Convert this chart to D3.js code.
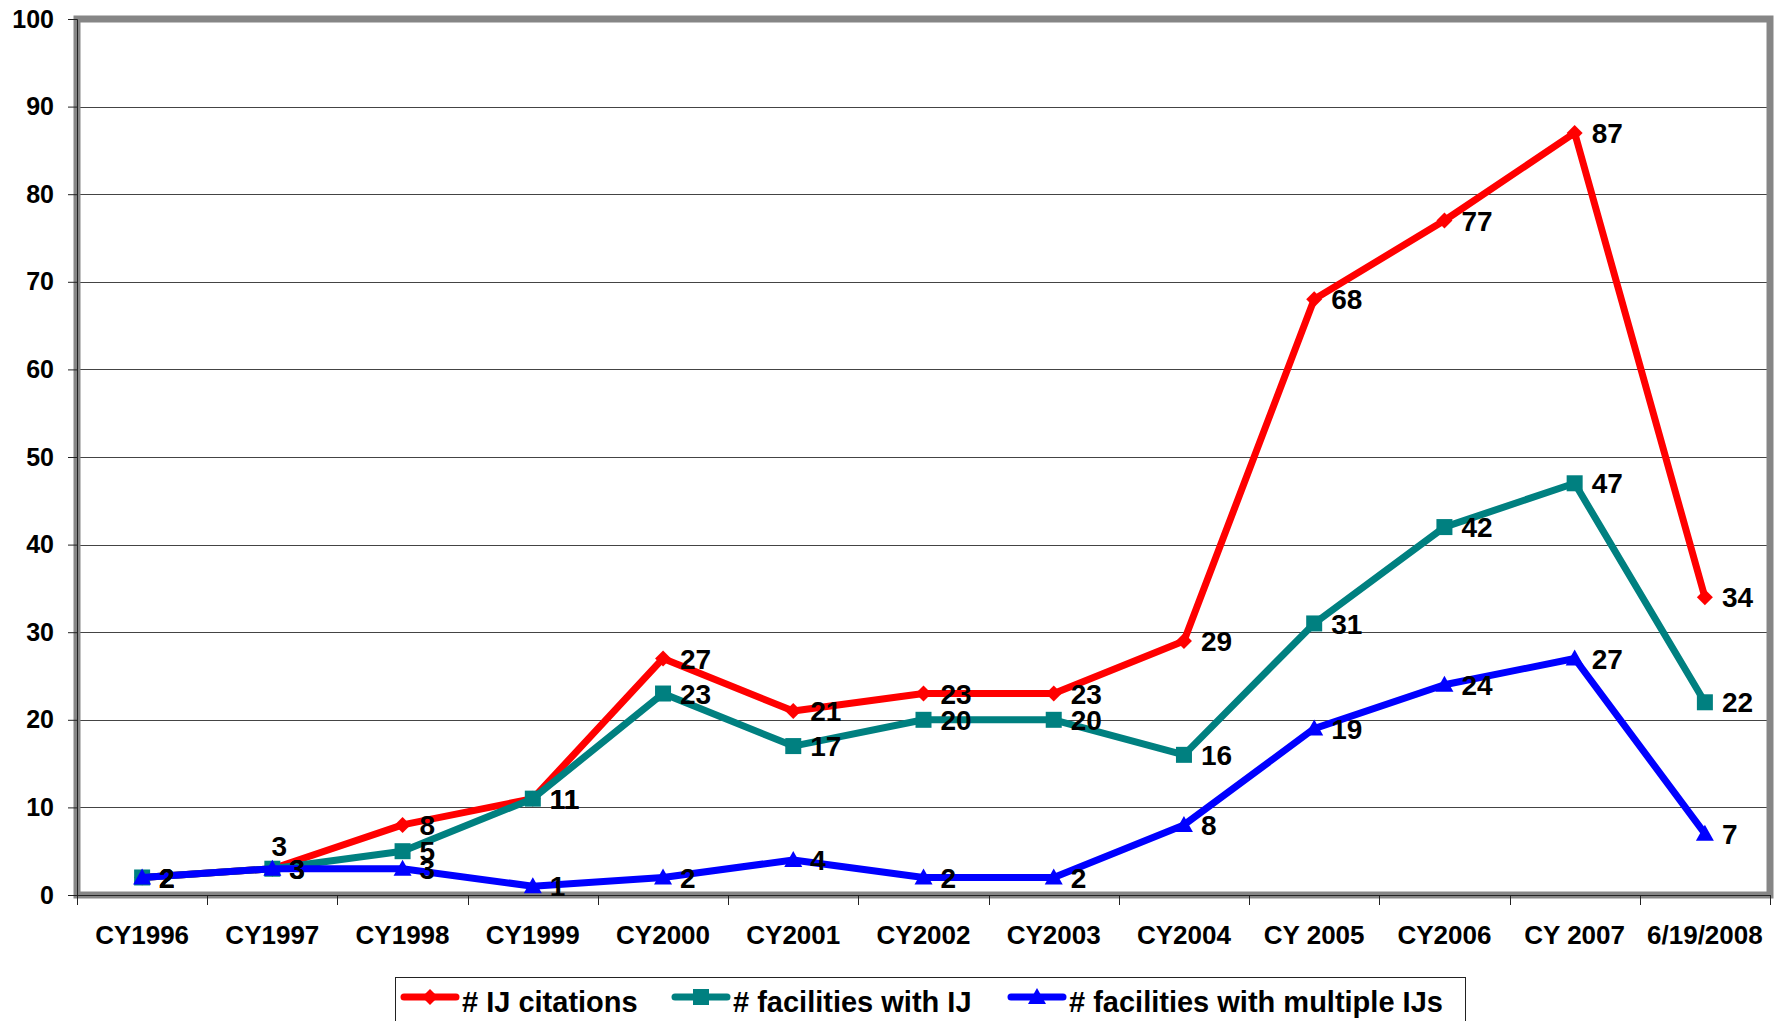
<!DOCTYPE html>
<html>
<head>
<meta charset="utf-8">
<script src="https://cdn.jsdelivr.net/npm/d3@7"></script>
<style>
  html, body { margin: 0; padding: 0; background: #fff; }
  svg { display: block; font-family: Arial, "Liberation Sans", sans-serif; font-weight: bold; }
</style>
</head>
<body>
<svg id="chart"></svg>
<script>
const categories = ["CY1996", "CY1997", "CY1998", "CY1999", "CY2000", "CY2001", "CY2002",
  "CY2003", "CY2004", "CY 2005", "CY2006", "CY 2007", "6/19/2008"];
const ijCitations = [2, 3, 8, 11, 27, 21, 23, 23, 29, 68, 77, 87, 34];
const facilitiesWithIJ = [2, 3, 5, 11, 23, 17, 20, 20, 16, 31, 42, 47, 22];
const facilitiesMultipleIJs = [2, 3, 3, 1, 2, 4, 2, 2, 8, 19, 24, 27, 7];
const yTicks = [0, 10, 20, 30, 40, 50, 60, 70, 80, 90, 100];

const series = [
  { name: "# IJ citations", values: ijCitations, color: "#ff0000", marker: "diamond" },
  { name: "# facilities with IJ", values: facilitiesWithIJ, color: "#008080", marker: "square" },
  { name: "# facilities with multiple IJs", values: facilitiesMultipleIJs, color: "#0000ff", marker: "triangle" }
];

const width = 1779, height = 1021;
const plot = { left: 77, right: 1770, top: 19, bottom: 895 };

const svg = d3.select("#chart").attr("width", width).attr("height", height);

const x = d3.scaleBand().domain(categories).range([plot.left, plot.right]);
const y = d3.scaleLinear().domain([0, 100]).range([plot.bottom, plot.top]);
const cx = (c) => x(c) + x.bandwidth() / 2;

// gridlines
svg.append("g").selectAll("line").data(yTicks.filter(t => t > 0 && t < 100)).enter().append("line")
  .attr("x1", plot.left).attr("x2", plot.right)
  .attr("y1", d => Math.round(y(d)) + 0.5).attr("y2", d => Math.round(y(d)) + 0.5)
  .attr("stroke", "#444").attr("stroke-width", 1);

// plot frame
svg.append("rect")
  .attr("x", plot.left).attr("y", plot.top)
  .attr("width", plot.right - plot.left).attr("height", plot.bottom - plot.top)
  .attr("fill", "none").attr("stroke", "#868686").attr("stroke-width", 7);

// y axis
const yAxis = svg.append("g").attr("transform", `translate(${plot.left},0)`)
  .call(d3.axisLeft(y).tickValues(yTicks).tickSize(9).tickPadding(14));
yAxis.select(".domain").attr("stroke", "#222").attr("stroke-width", 1);
yAxis.selectAll(".tick line").attr("stroke", "#222");
yAxis.selectAll("text").attr("font-size", 25).attr("font-family", "Arial, 'Liberation Sans', sans-serif")
  .attr("font-weight", "bold").attr("fill", "#000");

// x axis: ticks at category boundaries
const xAxis = svg.append("g").attr("transform", `translate(0,${plot.bottom})`);
xAxis.append("line").attr("x1", plot.left).attr("x2", plot.right).attr("y1", 0.5).attr("y2", 0.5)
  .attr("stroke", "#222");
xAxis.selectAll("line.tk").data(categories.concat(["end"])).enter().append("line").attr("class", "tk")
  .attr("x1", (d, i) => Math.round(i < categories.length ? x(d) : plot.right) + 0.5)
  .attr("x2", (d, i) => Math.round(i < categories.length ? x(d) : plot.right) + 0.5)
  .attr("y1", 0).attr("y2", 10).attr("stroke", "#222");
xAxis.selectAll("text").data(categories).enter().append("text")
  .attr("x", d => cx(d)).attr("y", 49)
  .attr("text-anchor", "middle").attr("font-size", 26).attr("fill", "#000")
  .text(d => d);

// marker shapes
function drawMarker(g, type, color, px, py) {
  if (type === "diamond") {
    g.append("path").attr("d", `M${px},${py - 8}L${px + 8},${py}L${px},${py + 8}L${px - 8},${py}Z`).attr("fill", color);
  } else if (type === "square") {
    g.append("rect").attr("x", px - 8).attr("y", py - 8).attr("width", 16).attr("height", 16).attr("fill", color);
  } else {
    g.append("path").attr("d", `M${px},${py - 9}L${px + 9},${py + 7}L${px - 9},${py + 7}Z`).attr("fill", color);
  }
}

const line = d3.line().x((d, i) => cx(categories[i])).y(d => y(d));

series.forEach(s => {
  const g = svg.append("g");
  g.append("path").datum(s.values).attr("d", line)
    .attr("fill", "none").attr("stroke", s.color).attr("stroke-width", 7).attr("stroke-linejoin", "round");
  s.values.forEach((v, i) => drawMarker(g, s.marker, s.color, cx(categories[i]), y(v)));
});

// data labels (right of point; red CY1997 label sits above)
const labels = svg.append("g").attr("font-size", 28).attr("fill", "#000");
series.forEach((s, si) => {
  s.values.forEach((v, i) => {
    const above = si === 0 && i === 1;
    labels.append("text")
      .attr("x", above ? cx(categories[i]) + 7 : cx(categories[i]) + 17)
      .attr("y", above ? y(v) - 23 : y(v))
      .attr("dy", "0.36em")
      .attr("text-anchor", above ? "middle" : "start")
      .text(v);
  });
});

// legend
const legend = svg.append("g");
legend.append("rect").attr("x", 395.5).attr("y", 977.5).attr("width", 1070).attr("height", 60)
  .attr("fill", "#fff").attr("stroke", "#222").attr("stroke-width", 1);
const legendX = [401, 672, 1008];
series.forEach((s, i) => {
  const lx = legendX[i], ly = 997;
  legend.append("line").attr("x1", lx + 3).attr("x2", lx + 55).attr("y1", ly).attr("y2", ly)
    .attr("stroke", s.color).attr("stroke-width", 7).attr("stroke-linecap", "round");
  drawMarker(legend, s.marker, s.color, lx + 29, ly);
  legend.append("text").attr("x", lx + 61).attr("y", ly + 15)
    .attr("font-size", 29).attr("fill", "#000").text(s.name);
});
</script>
</body>
</html>
